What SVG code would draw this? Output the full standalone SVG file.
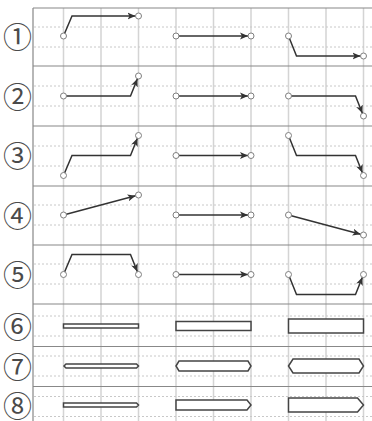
<svg xmlns="http://www.w3.org/2000/svg" width="372" height="421" viewBox="0 0 372 421">
<style>
.bg{fill:#fff}
.vg{stroke:#d4d4d4;stroke-width:1.5}
.dg{stroke:#c8c8c8;stroke-width:1;stroke-dasharray:2,2}
.sep{stroke:#888;stroke-width:1.2}
.lbl{font-family:"Noto Sans CJK JP","Noto Sans CJK SC",sans-serif;font-size:29px;fill:#4a4a4a;text-anchor:middle;dominant-baseline:central}
.cn{fill:none;stroke:#333;stroke-width:1.5;marker-end:url(#arr)}
.pt{fill:#fff;stroke:#808080;stroke-width:1}
.shp{fill:#fff;stroke:#444;stroke-width:1.5}
</style>
<defs>
<marker id="arr" markerUnits="userSpaceOnUse" markerWidth="9" markerHeight="9" refX="8" refY="4" orient="auto">
<path d="M0,0.5 L8,4 L0,7.5 L2,4 z" fill="#333"/>
</marker>
</defs>
<rect class="bg" x="0" y="0" width="372" height="421"/>
<g id="grid">
<path class="vg" d="M63.5,8V421M101,8V421M138.5,8V421M176,8V421M213.5,8V421M251,8V421M288.5,8V421M326,8V421M363.5,8V421"/>
<path class="dg" d="M34,27H372M34,47H372M34,86H372M34,106H372M34,146H372M34,166H372M34,205H372M34,225H372M34,264H372M34,284H372M34,316H372M34,336H372M34,356H372M34,376H372M34,396.5H372M34,416.5H372"/>
<path class="sep" d="M33,8H372M33,66H372M33,126H372M33,186H372M33,245H372M33,304H372M33,346.5H372M33,386.5H372M33,8V421"/>
</g>
<g id="labels">
<text class="lbl" x="17.5" y="35">①</text>
<text class="lbl" x="17.5" y="94.5">②</text>
<text class="lbl" x="17.5" y="154">③</text>
<text class="lbl" x="17.5" y="213.5">④</text>
<text class="lbl" x="17.5" y="273">⑤</text>
<text class="lbl" x="17.5" y="324.5">⑥</text>
<text class="lbl" x="17.5" y="364.5">⑦</text>
<text class="lbl" x="17.5" y="403.5">⑧</text>
</g>
<g id="connectors">
<path class="cn" d="M63.5,36 L72,16 L135.5,16"/>
<path class="cn" d="M176,36 L248,36"/>
<path class="cn" d="M288.5,36 L296.5,56 L360.5,56"/>
<path class="cn" d="M63.5,96 L130.5,96 L137.4,78.8"/>
<path class="cn" d="M176,96 L248,96"/>
<path class="cn" d="M288.5,96 L355.5,96 L362.4,113.2"/>
<path class="cn" d="M63.5,175.5 L72,155.5 L130.5,155.5 L137.4,138.3"/>
<path class="cn" d="M176,155.5 L248,155.5"/>
<path class="cn" d="M288.5,135.5 L296.5,155.5 L355.5,155.5 L362.4,172.7"/>
<path class="cn" d="M63.5,215 L135.6,195.8"/>
<path class="cn" d="M176,215 L248,215"/>
<path class="cn" d="M288.5,215 L360.6,234.2"/>
<path class="cn" d="M63.5,274.5 L72,254.5 L130.5,254.5 L137.4,271.7"/>
<path class="cn" d="M176,274.5 L248,274.5"/>
<path class="cn" d="M288.5,274.5 L296.5,294.5 L355.5,294.5 L362.4,277.3"/>
</g>
<g id="points">
<circle class="pt" cx="63.5" cy="36" r="3"/><circle class="pt" cx="138.5" cy="16" r="3"/>
<circle class="pt" cx="176" cy="36" r="3"/><circle class="pt" cx="251" cy="36" r="3"/>
<circle class="pt" cx="288.5" cy="36" r="3"/><circle class="pt" cx="363.5" cy="56" r="3"/>
<circle class="pt" cx="63.5" cy="96" r="3"/><circle class="pt" cx="138.5" cy="76" r="3"/>
<circle class="pt" cx="176" cy="96" r="3"/><circle class="pt" cx="251" cy="96" r="3"/>
<circle class="pt" cx="288.5" cy="96" r="3"/><circle class="pt" cx="363.5" cy="116" r="3"/>
<circle class="pt" cx="63.5" cy="175.5" r="3"/><circle class="pt" cx="138.5" cy="135.5" r="3"/>
<circle class="pt" cx="176" cy="155.5" r="3"/><circle class="pt" cx="251" cy="155.5" r="3"/>
<circle class="pt" cx="288.5" cy="135.5" r="3"/><circle class="pt" cx="363.5" cy="175.5" r="3"/>
<circle class="pt" cx="63.5" cy="215" r="3"/><circle class="pt" cx="138.5" cy="195" r="3"/>
<circle class="pt" cx="176" cy="215" r="3"/><circle class="pt" cx="251" cy="215" r="3"/>
<circle class="pt" cx="288.5" cy="215" r="3"/><circle class="pt" cx="363.5" cy="235" r="3"/>
<circle class="pt" cx="63.5" cy="274.5" r="3"/><circle class="pt" cx="138.5" cy="274.5" r="3"/>
<circle class="pt" cx="176" cy="274.5" r="3"/><circle class="pt" cx="251" cy="274.5" r="3"/>
<circle class="pt" cx="288.5" cy="274.5" r="3"/><circle class="pt" cx="363.5" cy="274.5" r="3"/>
</g>
<g id="row6">
<rect class="shp" x="63.5" y="324" width="75" height="4"/>
<rect class="shp" x="176" y="321.5" width="75" height="9"/>
<rect class="shp" x="288.5" y="319" width="75" height="14"/>
</g>
<g id="row7">
<polygon class="shp" points="64,366 66,364 136.5,364 138.5,366 136.5,368 66,368"/>
<polygon class="shp" points="176,366 179,361 248,361 251,366 248,371 179,371"/>
<polygon class="shp" points="288.5,366 293,359 359,359 363.5,366 359,373 293,373"/>
</g>
<g id="row8">
<polygon class="shp" points="63.5,403 136.5,403 138.5,405 136.5,407 63.5,407"/>
<polygon class="shp" points="176,400 247,400 251,405 247,410 176,410"/>
<polygon class="shp" points="288.5,398 357.5,398 363.5,405 357.5,412 288.5,412"/>
</g>
</svg>
